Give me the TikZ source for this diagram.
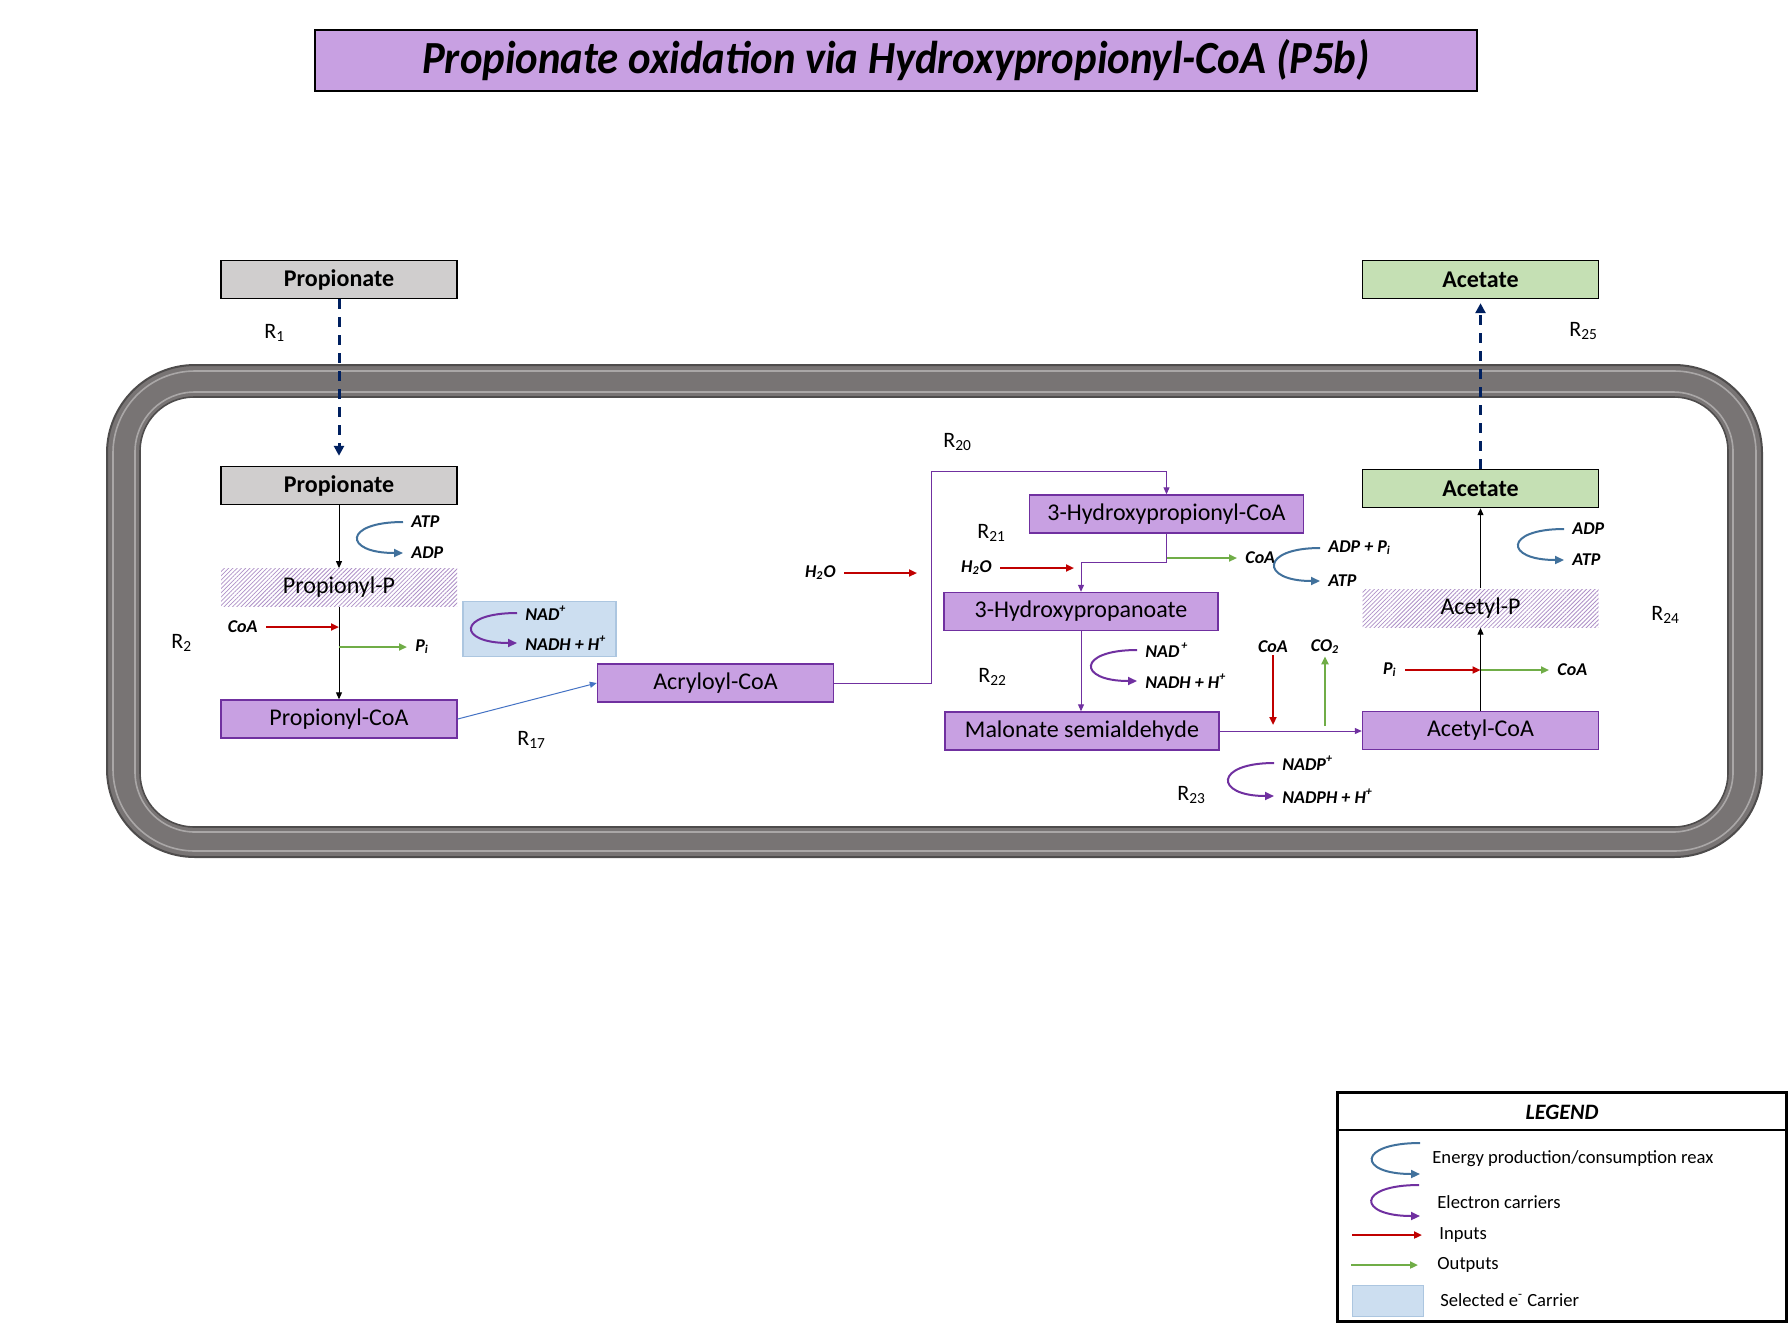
\documentclass[tikz,border=0pt]{standalone}
\usepackage{fontspec}
\setmainfont{Carlito}
\usepackage{graphicx}
\usepackage{tikz}
\usetikzlibrary{arrows.meta, positioning, calc, patterns.meta}

\definecolor{boxfill}{RGB}{200,160,226}
\definecolor{boxline}{RGB}{112,48,160}
\definecolor{extfill}{RGB}{208,206,206}
\definecolor{acfill}{RGB}{197,224,180}
\definecolor{hatchcol}{RGB}{175,145,200}
\definecolor{energycol}{RGB}{65,113,156}
\definecolor{ecol}{RGB}{112,48,160}
\definecolor{incol}{RGB}{192,0,0}
\definecolor{outcol}{RGB}{112,173,71}
\definecolor{carrierfill}{RGB}{204,222,240}
\definecolor{carrierline}{RGB}{172,198,224}
\definecolor{navy}{RGB}{0,32,96}
\definecolor{wallcol}{RGB}{120,116,116}
\definecolor{walledge}{RGB}{78,76,76}
\definecolor{wallhi}{RGB}{170,167,167}
\definecolor{flowblue}{RGB}{68,114,196}

\begin{document}
\begin{tikzpicture}[
  x=0.5pt, y=-0.5pt,
  titlebox/.style={rectangle, draw=black, line width=1pt, fill=boxfill, minimum width=581pt, minimum height=30.5pt, inner sep=0pt, font=\fontsize{23}{26}\selectfont\bfseries\itshape},
  box/.style={rectangle, draw=boxline, line width=0.7pt, fill=boxfill, minimum width=118pt, minimum height=19pt, inner sep=0pt, font=\fontsize{12}{14}\selectfont},
  widebox/.style={box, minimum width=137pt},
  extbox/.style={box, draw=black, fill=extfill, font=\fontsize{12}{14}\selectfont\bfseries},
  acbox/.style={extbox, fill=acfill},
  hatchbox/.style={box, draw=none, fill=none, pattern={Lines[angle=45, distance=1.5pt, line width=0.4pt]}, pattern color=hatchcol},
  carrier/.style={rectangle, draw=carrierline, line width=0.6pt, fill=carrierfill, minimum width=76.5pt, minimum height=27.5pt, inner sep=0pt},
  cof/.style={inner xsep=4pt, inner ysep=1pt, font=\fontsize{9}{11}\selectfont\bfseries\itshape},
  rlab/.style={inner sep=0pt, anchor=west, font=\fontsize{11}{13}\selectfont},
  legtext/.style={inner sep=0pt, anchor=west, font=\fontsize{9.3}{11}\selectfont},
  arrow/.style={draw=black, line width=0.5pt, -{Triangle[length=3.5pt, width=3pt]}},
  parrow/.style={arrow, draw=boxline},
  barrow/.style={arrow, draw=flowblue},
  dasharrow/.style={draw=navy, line width=1.5pt, dash pattern=on 5pt off 4pt, -{Triangle[length=5pt, width=5pt]}},
  inarrow/.style={draw=incol, line width=1pt, -{Triangle[length=4pt, width=3.5pt]}},
  outarrow/.style={draw=outcol, line width=1pt, -{Triangle[length=4pt, width=3.5pt]}},
  energy/.style={draw=energycol, line width=1pt, -{Triangle[length=4.5pt, width=4pt]}},
  electron/.style={draw=ecol, line width=1pt, -{Triangle[length=4.5pt, width=4pt]}}
]
\useasboundingbox (0,0) rectangle (1792,1323);

% Title
\node[titlebox] (title) at (896,60.5) {\scalebox{0.93}[1]{Propionate oxidation via Hydroxypropionyl-CoA (P5b)}};

% Cell wall
\filldraw[fill=wallcol, draw=walledge, line width=1pt, rounded corners=44pt] (107,365) rectangle (1762,857);
\draw[wallhi, line width=0.8pt, rounded corners=41pt] (113,371) rectangle (1756,851);
\draw[wallhi, line width=0.8pt, rounded corners=30pt] (135,392) rectangle (1733,832);
\filldraw[fill=white, draw=walledge, line width=0.8pt, rounded corners=27pt] (140,397) rectangle (1728,827);

% Outside nodes
\node[extbox] (propout) at (339,279.5) {Propionate};
\node[acbox] (acetout) at (1480.5,279.5) {Acetate};

% Inside nodes
\node[extbox] (prop) at (339,485.5) {Propionate};
\node[hatchbox] (propp) at (339,587.5) {Propionyl-P};
\node[box] (propcoa) at (339,719) {Propionyl-CoA};
\node[carrier] (nadbox) at (539.5,629) {};
\node[box] (acry) at (715.5,683) {Acryloyl-CoA};
\node[widebox] (hpcoa) at (1166.5,514) {3-Hydroxypropionyl-CoA};
\node[widebox] (hp) at (1081,611.5) {3-Hydroxypropanoate};
\node[widebox] (msa) at (1082,731) {Malonate semialdehyde};
\node[box] (acoa) at (1480.5,730.5) {Acetyl-CoA};
\node[hatchbox] (acp) at (1480.5,608) {Acetyl-P};
\node[acbox] (acet) at (1480.5,488.5) {Acetate};

% Reaction labels
\node[rlab] (r1) at (264,333) {R\textsubscript{1}};
\node[rlab] (r2) at (171,643) {R\textsubscript{2}};
\node[rlab] (r17) at (517,740) {R\textsubscript{17}};
\node[rlab] (r20) at (943,442) {R\textsubscript{20}};
\node[rlab] (r21) at (977,533) {R\textsubscript{21}};
\node[rlab] (r22) at (978,677) {R\textsubscript{22}};
\node[rlab] (r23) at (1177,795) {R\textsubscript{23}};
\node[rlab] (r24) at (1651,615) {R\textsubscript{24}};
\node[rlab] (r25) at (1569,331) {R\textsubscript{25}};

% Cofactors
\node[cof, anchor=west] (atp1) at (403,522) {ATP};
\node[cof, anchor=west] (adp1) at (403,553) {ADP};
\node[cof, anchor=east] (coa2) at (266,627) {CoA};
\node[cof, anchor=west] (pi2) at (407,647) {P\textsubscript{i}};
\node[cof, anchor=west] (nad1) at (517,613) {NAD\textsuperscript{+}};
\node[cof, anchor=west] (nadh1) at (517,643) {NADH + H\textsuperscript{+}};
\node[cof, anchor=east] (h2oa) at (844,573) {H\textsubscript{2}O};
\node[cof, anchor=east] (h2ob) at (1000,568) {H\textsubscript{2}O};
\node[cof, anchor=west] (coa21) at (1237,558) {CoA};
\node[cof, anchor=west] (adppi) at (1320,548) {ADP + P\textsubscript{i}};
\node[cof, anchor=west] (atp21) at (1320,581) {ATP};
\node[cof, anchor=west] (nad22) at (1137,650) {NAD\textsuperscript{\,+}};
\node[cof, anchor=west] (nadh22) at (1137,681) {NADH + H\textsuperscript{+}};
\node[cof] (coa23) at (1273,647) {CoA};
\node[cof] (co2) at (1325,647) {CO\textsubscript{2}};
\node[cof, anchor=west] (nadp) at (1274,763) {NADP\textsuperscript{+}};
\node[cof, anchor=west] (nadph) at (1274,796) {NADPH + H\textsuperscript{+}};
\node[cof, anchor=east] (pi24) at (1405,670) {P\textsubscript{i}};
\node[cof, anchor=west] (coa24) at (1549,670) {CoA};
\node[cof, anchor=west] (adp24) at (1564,529) {ADP};
\node[cof, anchor=west] (atp24) at (1564,560) {ATP};

% Transport arrows
\draw[dasharrow, shorten >=5pt] (propout) -- (prop);
\draw[dasharrow, shorten >=2pt] (acet) -- (acetout);

% Main flow arrows
\draw[arrow] (prop) -- (propp);
\draw[arrow] (propp) -- (propcoa);
\draw[barrow] (propcoa.east) -- (acry.west);
\coordinate (r20turn) at (931,471);
\draw[parrow] (acry.east) -| (r20turn) -| (hpcoa.north);
\coordinate (r21turn) at (1081,562);
\draw[parrow] (hpcoa.south) |- (r21turn) -- (hp.north);
\draw[parrow] (hp.south) -- (hp.south |- msa.north);
\draw[parrow] (msa.east) -- (msa.east -| acoa.west);
\draw[arrow] (acoa) -- (acp);
\draw[arrow] (acp) -- (acet);

% Inputs and outputs
\draw[inarrow] (coa2.east) -- (coa2.east -| propcoa.north);
\draw[outarrow] (pi2.west -| propcoa.north) -- (pi2.west);
\draw[inarrow, shorten >=7pt] (h2oa.east) -- (h2oa.east -| r20turn);
\draw[inarrow, shorten >=3.5pt] (h2ob.east) -- (h2ob.east -| hp.north);
\draw[outarrow] (coa21.west -| hpcoa.south) -- (coa21.west);
\draw[inarrow, shorten >=3pt] (coa23.south) -- (coa23.south |- msa.east);
\draw[outarrow, shorten <=2.5pt] (co2.south |- msa.east) -- (co2.south);
\draw[inarrow] (pi24.east) -- (pi24.east -| acoa.north);
\draw[outarrow] (coa24.west -| acoa.north) -- (coa24.west);

% Carrier curves
\draw[energy] (atp1.west) .. controls +(-60,0) and +(-60,0) .. (adp1.west);
\draw[electron] (nad1.west) .. controls +(-60,0) and +(-60,0) .. (nadh1.west);
\draw[energy] (adppi.west) .. controls +(-60,0) and +(-60,0) .. (atp21.west);
\draw[electron] (nad22.west) .. controls +(-60,0) and +(-60,0) .. (nadh22.west);
\draw[electron] (nadp.west) .. controls +(-60,0) and +(-60,0) .. (nadph.west);
\draw[energy] (adp24.west) .. controls +(-60,0) and +(-60,0) .. (atp24.west);

% Legend
\node[draw=black, line width=1.5pt, minimum width=224.5pt, minimum height=114.5pt, inner sep=0pt] (legend) at (1561.5,1206.5) {};
\draw[black, line width=1pt] (legend.north west) ++(0,39) -- ++(449,0);
\node[font=\fontsize{11}{13}\selectfont\bfseries\itshape] (legtitle) at (1562,1112) {LEGEND};
\node[legtext] (lgenergy) at (1432,1159) {Energy production/consumption reax};
\node[legtext] (lgelec) at (1437,1202) {Electron carriers};
\node[legtext] (lginputs) at (1439,1235) {Inputs};
\node[legtext] (lgoutputs) at (1437,1265) {Outputs};
\node[legtext] (lgselected) at (1440,1300) {Selected e\textsuperscript{-} Carrier};
\coordinate (lge1) at (1420,1143);
\coordinate (lge2) at (1420,1174);
\coordinate (lgc1) at (1419,1185);
\coordinate (lgc2) at (1420,1216);
\coordinate (lgin) at (1352,1235);
\coordinate (lgout) at (1351,1265);
\draw[energy] (lge1) .. controls +(-63,0) and +(-63,0) .. (lge2);
\draw[electron] (lgc1) .. controls +(-63,0) and +(-63,0) .. (lgc2);
\draw[inarrow, shorten >=8.5pt] (lgin) -- (lginputs.west);
\draw[outarrow, shorten >=9.5pt] (lgout) -- (lgoutputs.west);
\node[carrier, minimum width=35.5pt, minimum height=15.5pt, anchor=north west] (lgbox) at (1352,1285) {};

\end{tikzpicture}
\end{document}
